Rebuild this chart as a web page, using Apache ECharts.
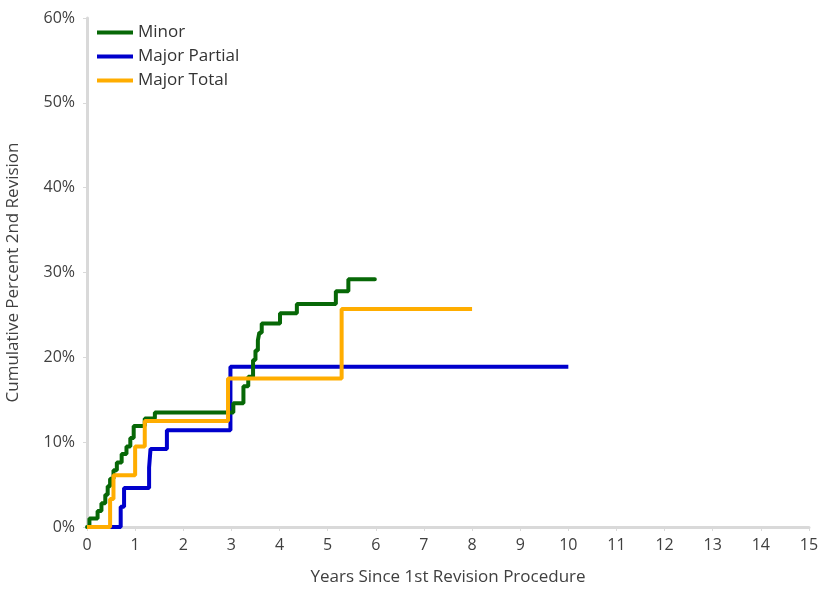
<!DOCTYPE html>
<html>
<head>
<meta charset="utf-8">
<script src="https://cdn.jsdelivr.net/npm/echarts@6/dist/echarts.min.js"></script>
<style>
  html, body { margin: 0; padding: 0; background: #fff; }
  #main { width: 819px; height: 589px; }
</style>
</head>
<body>
<div id="main"></div>
<script>
// step points: value holds from x onward
const minorYears = [0, 0.05, 0.22, 0.3, 0.38, 0.43, 0.48, 0.55, 0.62, 0.72, 0.82, 0.9, 0.97, 1.2, 1.41,
  3.04, 3.25, 3.35, 3.45, 3.5, 3.55, 3.58, 3.63, 4.01, 4.36, 5.17, 5.43, 5.98]
const minorPct = [0, 1.0, 1.9, 2.8, 3.8, 4.8, 5.7, 6.7, 7.6, 8.6, 9.5, 10.5, 11.9, 12.8, 13.5,
  14.6, 16.6, 17.7, 19.7, 20.8, 22.0, 22.9, 24.0, 25.2, 26.3, 27.8, 29.2, 29.2]

const partialYears = [0, 0.7, 0.77, 1.29, 1.32, 1.66, 2.98, 10]
const partialPct = [0, 2.4, 4.6, 7.0, 9.2, 11.4, 18.9, 18.9]

const totalYears = [0, 0.48, 0.55, 1.0, 1.2, 2.93, 5.29, 8]
const totalPct = [0, 3.3, 6.1, 9.5, 12.5, 17.5, 25.7, 25.7]

const seriesNames = ['Minor', 'Major Partial', 'Major Total']
const colors = ['#076807', '#0000cc', '#ffad00']

const pairs = (xs, ys) => xs.map((x, i) => [x, ys[i]])

const myChart = echarts.init(document.getElementById('main'))
const fontFamily = '"Open Sans", "Noto Sans", sans-serif'

myChart.setOption({
  animation: false,
  color: colors,
  textStyle: { fontFamily: fontFamily },
  legend: {
    left: 92,
    top: 19,
    orient: 'vertical',
    itemWidth: 36,
    itemHeight: 4,
    itemGap: 7,
    icon: 'rect',
    textStyle: { fontSize: 17, color: '#333', fontFamily: fontFamily },
    data: seriesNames
  },
  grid: { left: 87, right: 10, top: 18, bottom: 62, outerBoundsMode: 'none' },
  xAxis: {
    type: 'value',
    min: 0,
    max: 15,
    interval: 1,
    name: 'Years Since 1st Revision Procedure',
    nameLocation: 'middle',
    nameGap: 42,
    nameTextStyle: { fontSize: 17, color: '#404040' },
    axisLine: { lineStyle: { color: '#d9d9d9', width: 3 } },
    axisTick: { show: true, length: 4, lineStyle: { color: '#d9d9d9' } },
    axisLabel: { fontSize: 16, color: '#404040', margin: 10 },
    splitLine: { show: false }
  },
  yAxis: {
    type: 'value',
    min: 0,
    max: 60,
    interval: 10,
    name: 'Cumulative Percent 2nd Revision',
    nameLocation: 'middle',
    nameGap: 65,
    nameTextStyle: { fontSize: 17, color: '#404040' },
    axisLine: { show: true, lineStyle: { color: '#d9d9d9', width: 3 } },
    axisTick: { show: true, length: 4, lineStyle: { color: '#d9d9d9' } },
    axisLabel: { fontSize: 16, color: '#404040', formatter: '{value}%', margin: 12 },
    splitLine: { show: false }
  },
  series: [
    {
      name: seriesNames[0],
      type: 'line',
      step: 'end',
      showSymbol: false,
      lineStyle: { width: 4, cap: 'round' },
      data: pairs(minorYears, minorPct),
      z: 3
    },
    {
      name: seriesNames[1],
      type: 'line',
      step: 'end',
      showSymbol: false,
      lineStyle: { width: 4 },
      data: pairs(partialYears, partialPct),
      z: 2
    },
    {
      name: seriesNames[2],
      type: 'line',
      step: 'end',
      showSymbol: false,
      lineStyle: { width: 4 },
      data: pairs(totalYears, totalPct),
      z: 4
    }
  ]
})
</script>
</body>
</html>
